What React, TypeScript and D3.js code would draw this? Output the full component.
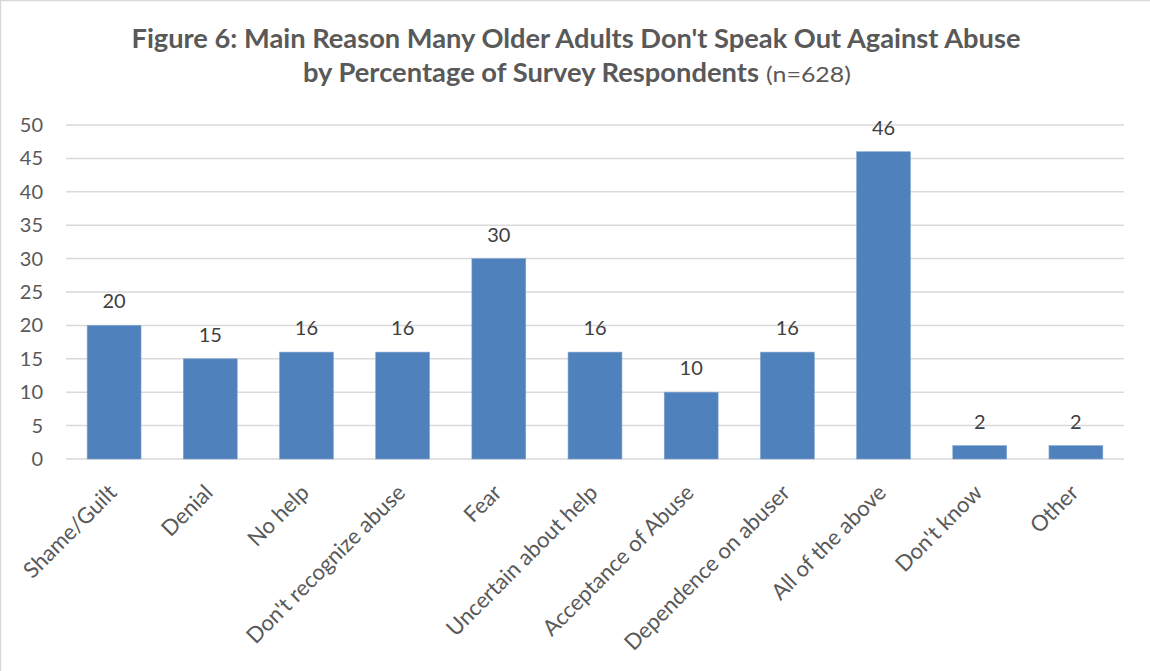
import React from "react";
import * as d3 from "d3";

const categories = [
  "Shame/Guilt",
  "Denial",
  "No help",
  "Don't recognize abuse",
  "Fear",
  "Uncertain about help",
  "Acceptance of Abuse",
  "Dependence on abuser",
  "All of the above",
  "Don't know",
  "Other",
];
const values = [20, 15, 16, 16, 30, 16, 10, 16, 46, 2, 2];
const yTicks = [0, 5, 10, 15, 20, 25, 30, 35, 40, 45, 50];

const W = 1150;
const H = 671;
const plot = { left: 66, right: 1124, top: 125, bottom: 459 };
const FONT = "Lato, 'Open Sans', sans-serif";
const TEXT = "#595959";

export default function App() {
  const x = d3
    .scaleBand<string>()
    .domain(categories)
    .range([plot.left, plot.right])
    .paddingInner(0.44)
    .paddingOuter(0.22);
  const y = d3.scaleLinear().domain([0, 50]).range([plot.bottom, plot.top]);

  return (
    <svg
      width={W}
      height={H}
      style={{ position: "absolute", left: 0, top: 0, background: "#fff" }}
    >
      <rect x={0.5} y={0.5} width={W + 20} height={H + 20} fill="#fff" stroke="#D9D9D9" strokeWidth={1.5} />

      <text
        x={576}
        y={48}
        textAnchor="middle"
        fontFamily={FONT}
        fontWeight={700}
        fontSize={26}
        fill={TEXT}
        textLength={889}
        lengthAdjust="spacingAndGlyphs"
      >
        Figure 6: Main Reason Many Older Adults Don't Speak Out Against Abuse
      </text>
      <text
        x={303}
        y={82}
        fontFamily={FONT}
        fontWeight={700}
        fontSize={26}
        fill={TEXT}
        textLength={456}
        lengthAdjust="spacingAndGlyphs"
      >
        by Percentage of Survey Respondents
      </text>
      <text
        x={766}
        y={82}
        fontFamily={FONT}
        fontSize={22}
        fill={TEXT}
        textLength={85}
        lengthAdjust="spacingAndGlyphs"
      >
        (n=628)
      </text>

      {yTicks.map((t) => (
        <g key={t}>
          <line x1={plot.left} x2={plot.right} y1={y(t)} y2={y(t)} stroke="#D9D9D9" strokeWidth={1.5} />
          <text
            x={43}
            y={y(t)}
            dy="0.35em"
            textAnchor="end"
            fontFamily={FONT}
            fontSize={20}
            fill={TEXT}
          >
            {t}
          </text>
        </g>
      ))}

      {categories.map((c, i) => {
        const bx = x(c)!;
        const cx = bx + x.bandwidth() / 2;
        const v = values[i];
        return (
          <g key={c}>
            <rect
              x={bx}
              y={y(v)}
              width={x.bandwidth()}
              height={y(0) - y(v)}
              fill="#4F81BD"
              stroke="#7FA3CF"
              strokeWidth={0.6}
            />
            <text
              x={cx}
              y={y(v) - 17}
              textAnchor="middle"
              fontFamily={FONT}
              fontSize={20}
              fill="#404040"
            >
              {v}
            </text>
            <text
              transform={`translate(${cx + 4},${plot.bottom + 35}) rotate(-45)`}
              textAnchor="end"
              fontFamily={FONT}
              fontSize={22}
              fill={TEXT}
            >
              {c}
            </text>
          </g>
        );
      })}
    </svg>
  );
}
